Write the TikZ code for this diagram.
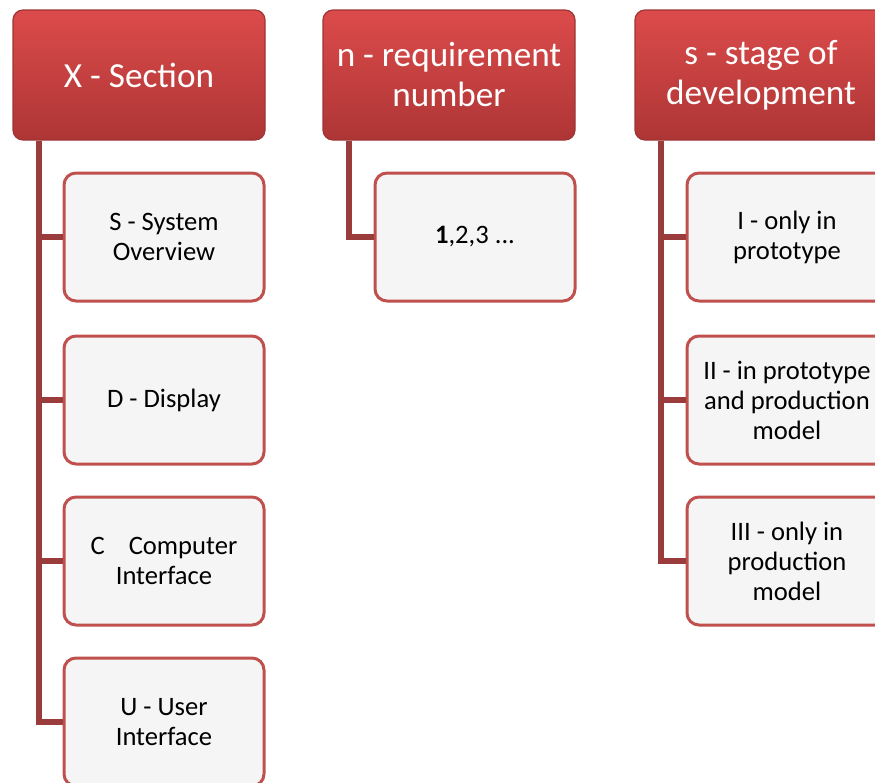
\documentclass[tikz,border=0pt]{standalone}
\usepackage{fontspec}
\setmainfont{Carlito}
\usetikzlibrary{positioning, calc}
\definecolor{headtop}{HTML}{DC4B4B}
\definecolor{headbot}{HTML}{AE3535}
\definecolor{headrim}{HTML}{9E3434}
\definecolor{cardrim}{HTML}{C0504D}
\definecolor{cardbg}{HTML}{F5F5F5}
\definecolor{linkc}{HTML}{9A3C3C}
\tikzset{
  head/.style={rounded corners=5pt, draw=headrim, top color=headtop, bottom color=headbot,
               line width=0.6pt, minimum width=126pt, minimum height=65pt,
               align=center, text=white, font=\fontsize{17.6}{20}\selectfont},
  card/.style={rounded corners=6pt, draw=cardrim, fill=cardbg, line width=1.5pt,
               minimum width=100pt, minimum height=64pt,
               align=center, text=black, font=\fontsize{13.3}{15}\selectfont},
  link/.style={draw=linkc, line width=3pt},
}
\begin{document}
\begin{tikzpicture}[x=0.5pt, y=-0.5pt]
    \useasboundingbox (0,0) rectangle (875,783);
    \clip (0,0) rectangle (875,783);
    % headers
    \node[head] (hx) at (139,75) {X - Section};
    \node[head] (hn) at (449,75) {n - requirement\\number};
    \node[head] (hs) at (761,75) {s - stage of\\development};
    % column X
    \node[card] (xs) at (164,237) {S - System\\Overview};
    \node[card] (xd) at (164,400) {D - Display};
    \node[card] (xc) at (164,561) {C\hspace{0.9em}Computer\\Interface};
    \node[card] (xu) at (164,722) {U - User\\Interface};
    % column n
    \node[card] (n1) at (475,237) {\textbf{1},2,3 ...};
    % column s
    \node[card] (s1) at (787,237) {I - only in\\prototype};
    \node[card] (s2) at (787,400) {II - in prototype\\and production\\model};
    \node[card] (s3) at (787,561) {III - only in\\production\\model};
    % links
    \foreach \c in {xs,xd,xc,xu} \draw[link] ([xshift=13.5pt]hx.south west) |- (\c.west);
    \draw[link] ([xshift=13.5pt]hn.south west) |- (n1.west);
    \foreach \c in {s1,s2,s3} \draw[link] ([xshift=13.5pt]hs.south west) |- (\c.west);
  \end{tikzpicture}
\end{document}
